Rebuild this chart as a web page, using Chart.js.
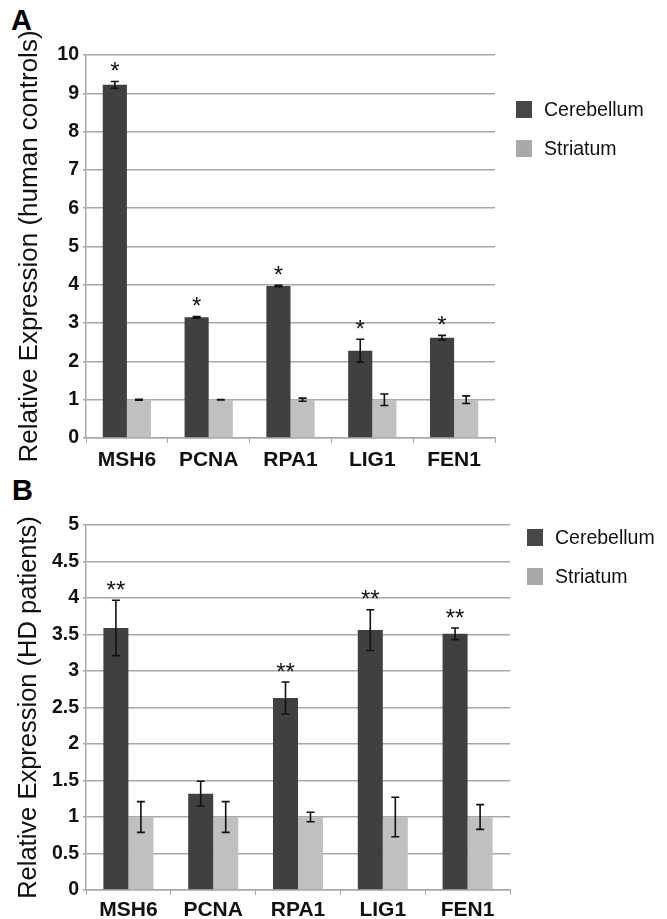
<!DOCTYPE html>
<html>
<head>
<meta charset="utf-8">
<script src="https://cdn.jsdelivr.net/npm/chart.js@4"></script>
<style>
  body { margin: 0; background: #fff; font-family: 'Liberation Sans', Arial, sans-serif; }
  #wrap { position: relative; width: 667px; height: 919px; }
  .panel { position: absolute; left: 0; width: 667px; }
  .tag { position: absolute; font-weight: bold; font-size: 29px; line-height: 1; }
  .legend { position: absolute; font-size: 19.5px; color: #111; }
  .legend div { display: flex; align-items: center; height: 39px; }
  .legend span.box { width: 16px; height: 17px; margin-right: 12px; display: inline-block; }
</style>
</head>
<body>
<div id="wrap">
  <div class="tag" style="left:11px; top:6px;">A</div>
  <div class="tag" style="left:12px; top:476px;">B</div>
  <div class="panel" style="top:0; height:470px;"><canvas id="chartA"></canvas></div>
  <div class="panel" style="top:470px; height:449px;"><canvas id="chartB"></canvas></div>
  <div class="legend" id="legendA" style="left:516px; top:90px;"></div>
  <div class="legend" id="legendB" style="left:527px; top:518px;"></div>
</div>
<script>
// genes on the x axis
const genes = ['MSH6', 'PCNA', 'RPA1', 'LIG1', 'FEN1'];
const seriesNames = ['Cerebellum', 'Striatum'];
const seriesColors = ['#404040', '#c0c0c0'];

// panel A - human controls
const cerebellumA = [9.22, 3.15, 3.97, 2.28, 2.62];
const cerebellumErrA = [0.09, 0.02, 0.02, 0.30, 0.06];
const striatumA = [1, 1, 1, 1, 1];
const striatumErrA = [0.01, 0.005, 0.04, 0.15, 0.10];
const starsA = ['*', '*', '*', '*', '*'];
const ticksA = [0, 1, 2, 3, 4, 5, 6, 7, 8, 9, 10];

// panel B - HD patients
const cerebellumB = [3.59, 1.32, 2.63, 3.56, 3.51];
const cerebellumErrB = [0.38, 0.17, 0.22, 0.28, 0.08];
const striatumB = [1, 1, 1, 1, 1];
const striatumErrB = [0.21, 0.21, 0.065, 0.27, 0.17];
const starsB = ['**', '', '**', '**', '**'];
const ticksB = [0, 0.5, 1, 1.5, 2, 2.5, 3, 3.5, 4, 4.5, 5];

const FONT = "'Liberation Sans', Arial, sans-serif";
const GRID = '#a8a8a8';

// error bars + significance stars, placed with the chart's own scales
const errorBarPlugin = {
    id: 'errorBars',
    afterDatasetsDraw(chart) {
        const ctx = chart.ctx;
        const yScale = chart.scales.y;
        ctx.save();
        ctx.strokeStyle = '#111';
        ctx.lineWidth = 1.6;
        chart.data.datasets.forEach((ds, i) => {
            const meta = chart.getDatasetMeta(i);
            meta.data.forEach((bar, j) => {
                const v = ds.data[j];
                const e = ds.errors[j];
                const yTop = yScale.getPixelForValue(v + e);
                const yBot = yScale.getPixelForValue(v - e);
                const x = bar.x;
                const cap = 4;
                ctx.beginPath();
                ctx.moveTo(x, yTop); ctx.lineTo(x, yBot);
                ctx.moveTo(x - cap, yTop); ctx.lineTo(x + cap, yTop);
                ctx.moveTo(x - cap, yBot); ctx.lineTo(x + cap, yBot);
                ctx.stroke();
                if (ds.stars && ds.stars[j]) {
                    ctx.fillStyle = '#111';
                    ctx.font = '24px ' + FONT;
                    ctx.textAlign = 'center';
                    ctx.textBaseline = 'middle';
                    ctx.fillText(ds.stars[j], x, yTop - 9);
                }
            });
        });
        ctx.restore();
    }
};

function makeChart(id, cer, cerErr, str, strErr, stars, ticks, title, yMax, layout) {
    return new Chart(document.getElementById(id), {
        type: 'bar',
        data: {
            labels: genes,
            datasets: [
                {
                    label: seriesNames[0],
                    data: cer,
                    errors: cerErr,
                    stars: stars,
                    backgroundColor: seriesColors[0],
                    barPercentage: 1,
                    categoryPercentage: 0.59,
                },
                {
                    label: seriesNames[1],
                    data: str,
                    errors: strErr,
                    backgroundColor: seriesColors[1],
                    barPercentage: 1,
                    categoryPercentage: 0.59,
                },
            ],
        },
        options: {
            responsive: true,
            maintainAspectRatio: false,
            animation: false,
            layout: {
                padding: { top: layout.top, right: layout.right, left: 0, bottom: 0 },
            },
            scales: {
                x: {
                    afterFit: s => { s.height = layout.xHeight; },
                    grid: {
                        offset: true,
                        drawOnChartArea: false,
                        color: GRID,
                        tickLength: 5,
                    },
                    border: { color: GRID, width: 1.5 },
                    ticks: {
                        color: '#111',
                        padding: layout.xPad,
                        font: { family: FONT, size: 21, weight: 'bold' },
                    },
                },
                y: {
                    min: 0,
                    max: yMax,
                    afterFit: s => { s.width = 86; },
                    afterBuildTicks: s => { s.ticks = ticks.map(v => ({ value: v })); },
                    grid: { color: GRID, lineWidth: 1.5, tickLength: 3 },
                    border: { color: GRID, width: 1.5 },
                    ticks: {
                        color: '#111',
                        padding: 4,
                        callback: v => String(+v),
                        font: { family: FONT, size: 19.5, weight: 'bold' },
                    },
                    title: {
                        display: true,
                        text: title,
                        color: '#111',
                        padding: { top: 14, bottom: 0 },
                        font: { family: FONT, size: layout.titleSize },
                    },
                },
            },
            plugins: {
                legend: { display: false },
                tooltip: { enabled: false },
            },
        },
        plugins: [errorBarPlugin],
    });
}

function makeLegend(id) {
    const el = document.getElementById(id);
    seriesNames.forEach((name, i) => {
        const row = document.createElement('div');
        const box = document.createElement('span');
        box.className = 'box';
        box.style.background = i === 0 ? '#474747' : '#a9a9a9';
        row.appendChild(box);
        row.appendChild(document.createTextNode(name));
        el.appendChild(row);
    });
}

makeChart('chartA', cerebellumA, cerebellumErrA, striatumA, striatumErrA, starsA, ticksA,
    'Relative Expression (human controls)', 10,
    { top: 55, right: 172, xHeight: 32, xPad: 5, titleSize: 26 });
makeChart('chartB', cerebellumB, cerebellumErrB, striatumB, striatumErrB, starsB, ticksB,
    'Relative Expression (HD patients)', 5,
    { top: 55, right: 157, xHeight: 29, xPad: 3, titleSize: 25.5 });
makeLegend('legendA');
makeLegend('legendB');
</script>
</body>
</html>
